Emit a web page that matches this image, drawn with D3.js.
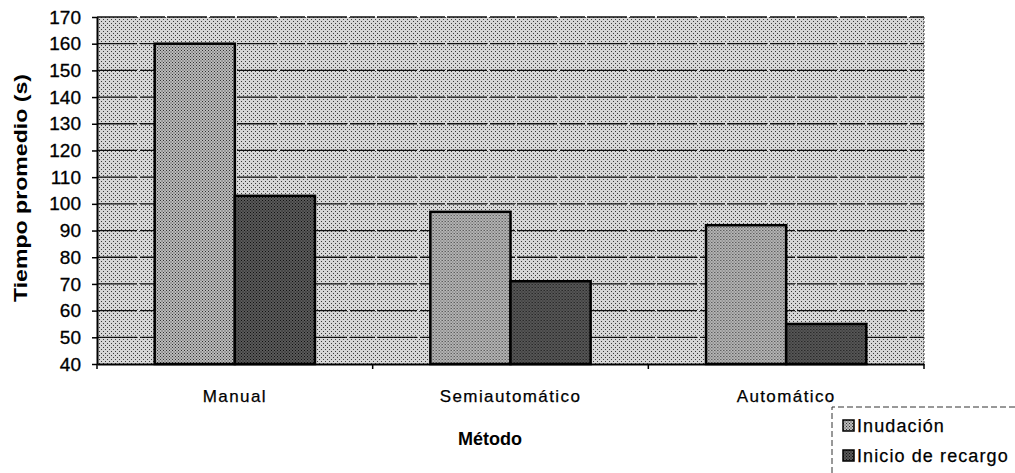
<!DOCTYPE html>
<html>
<head>
<meta charset="utf-8">
<script src="https://cdn.jsdelivr.net/npm/d3@7/dist/d3.min.js"></script>
<style>
  html, body { margin: 0; padding: 0; background: #fff; }
  svg { display: block; font-family: "Liberation Sans", Arial, sans-serif; }
</style>
</head>
<body>
<svg id="chart" width="1015" height="473"></svg>
<script>
// Tiempo promedio por método
const categories = ["Manual", "Semiautomático", "Automático"];
const seriesNames = ["Inudación", "Inicio de recargo"];
const inudacion = [160, 97, 92];
const inicioRecargo = [103, 71, 55];
const yTicks = [40, 50, 60, 70, 80, 90, 100, 110, 120, 130, 140, 150, 160, 170];

const svg = d3.select("#chart");
const margin = { left: 97, right: 91, top: 17, bottom: 109 };
const W = 1015, H = 473;
const plotW = W - margin.left - margin.right;
const plotH = H - margin.top - margin.bottom;

// halftone-like fills
const defs = svg.append("defs");
function dotPattern(id, bg, dot, size) {
  const p = defs.append("pattern").attr("id", id)
    .attr("width", size).attr("height", size)
    .attr("patternUnits", "userSpaceOnUse");
  p.append("rect").attr("width", size).attr("height", size).attr("fill", bg);
  p.append("rect").attr("x", 0).attr("y", 0).attr("width", 1).attr("height", 1).attr("fill", dot);
  p.append("rect").attr("x", size / 2).attr("y", size / 2).attr("width", 1).attr("height", 1).attr("fill", dot);
}
dotPattern("bgFill", "#d6d6d6", "#3a3a3a", 4);
dotPattern("fillA", "#bcbcbc", "#303030", 3);
dotPattern("fillB", "#5a5a5a", "#101010", 3);
const fills = ["url(#fillA)", "url(#fillB)"];

const g = svg.append("g").attr("transform", `translate(${margin.left},${margin.top})`);

const x0 = d3.scaleBand().domain(categories).range([0, plotW]).paddingInner(0).paddingOuter(0);
const x1 = d3.scaleBand().domain(seriesNames).range([0, x0.bandwidth()]).paddingInner(0).paddingOuter(0.72);
const y = d3.scaleLinear().domain([40, 170]).range([plotH, 0]);

// plot background
g.append("rect").attr("width", plotW).attr("height", plotH).attr("fill", "url(#bgFill)");

// gridlines
g.append("g").selectAll("line").data(yTicks.slice(1)).join("line")
  .attr("x1", 0).attr("x2", plotW)
  .attr("y1", d => y(d)).attr("y2", d => y(d))
  .attr("stroke", "#111").attr("stroke-width", 1.3)
  .attr("stroke-dasharray", "40,3,25,2");

// bars
const rows = categories.map((c, i) => ({ cat: c, vals: [inudacion[i], inicioRecargo[i]] }));
const grp = g.selectAll(".grp").data(rows).join("g")
  .attr("transform", d => `translate(${x0(d.cat)},0)`);
grp.selectAll("rect").data(d => d.vals.map((v, j) => ({ name: seriesNames[j], v, j }))).join("rect")
  .attr("x", d => x1(d.name))
  .attr("width", x1.bandwidth())
  .attr("y", d => y(d.v))
  .attr("height", d => y(40) - y(d.v))
  .attr("fill", d => fills[d.j])
  .attr("stroke", "#000").attr("stroke-width", 2.5);

// axes
const yAxis = d3.axisLeft(y).tickValues(yTicks).tickSize(5).tickSizeOuter(0);
const ya = g.append("g").call(yAxis);
ya.select(".domain").attr("stroke", "#000").attr("stroke-width", 2);
ya.selectAll(".tick line").attr("stroke", "#000").attr("stroke-width", 1.5);
ya.selectAll(".tick text").attr("font-size", 19).attr("fill", "#000").attr("x", -16)
  .attr("font-family", "'Liberation Sans', Arial, sans-serif")
  .attr("stroke", "#000").attr("stroke-width", 0.3);

const xAxis = d3.axisBottom(x0).tickSize(0);
const xa = g.append("g").attr("transform", `translate(0,${plotH})`).call(xAxis);
xa.select(".domain").attr("stroke", "#000").attr("stroke-width", 2);
xa.selectAll(".tick text").attr("font-size", 17).attr("fill", "#000").attr("dy", "2.05em")
  .attr("letter-spacing", 1.4)
  .attr("font-family", "'Liberation Sans', Arial, sans-serif")
  .attr("stroke", "#000").attr("stroke-width", 0.25);
// category boundary ticks
g.append("g").selectAll("line").data(d3.range(categories.length + 1)).join("line")
  .attr("x1", i => i * x0.bandwidth()).attr("x2", i => i * x0.bandwidth())
  .attr("y1", plotH).attr("y2", plotH + 5)
  .attr("stroke", "#000").attr("stroke-width", 1.5);

// right border of plot
g.append("line").attr("x1", plotW).attr("x2", plotW).attr("y1", 0).attr("y2", plotH)
  .attr("stroke", "#444").attr("stroke-width", 1).attr("stroke-dasharray", "2,2");

// axis titles
svg.append("text")
  .attr("transform", `translate(27,188) rotate(-90)`)
  .attr("text-anchor", "middle").attr("font-size", 18).attr("font-weight", "bold")
  .attr("textLength", 228).attr("lengthAdjust", "spacingAndGlyphs")
  .text("Tiempo promedio (s)");
svg.append("text")
  .attr("x", 490).attr("y", 445)
  .attr("text-anchor", "middle").attr("font-size", 18).attr("font-weight", "bold")
  .text("Método");

// legend
const lg = svg.append("g").attr("transform", "translate(832,407)");
lg.append("path").attr("d", "M0,66 L0,0 L185,0")
  .attr("fill", "none").attr("stroke", "#333").attr("stroke-width", 1).attr("stroke-dasharray", "6,3");
const items = lg.selectAll(".item").data(seriesNames).join("g")
  .attr("transform", (d, i) => `translate(11,${19 + i * 30})`);
items.append("rect").attr("x", 0).attr("y", -6).attr("width", 11).attr("height", 11)
  .attr("fill", (d, i) => fills[i]).attr("stroke", "#000").attr("stroke-width", 1.5);
items.append("text").attr("x", 14).attr("y", 6).attr("font-size", 18)
  .attr("letter-spacing", 1.1)
  .attr("stroke", "#000").attr("stroke-width", 0.25)
  .text(d => d);
</script>
</body>
</html>
